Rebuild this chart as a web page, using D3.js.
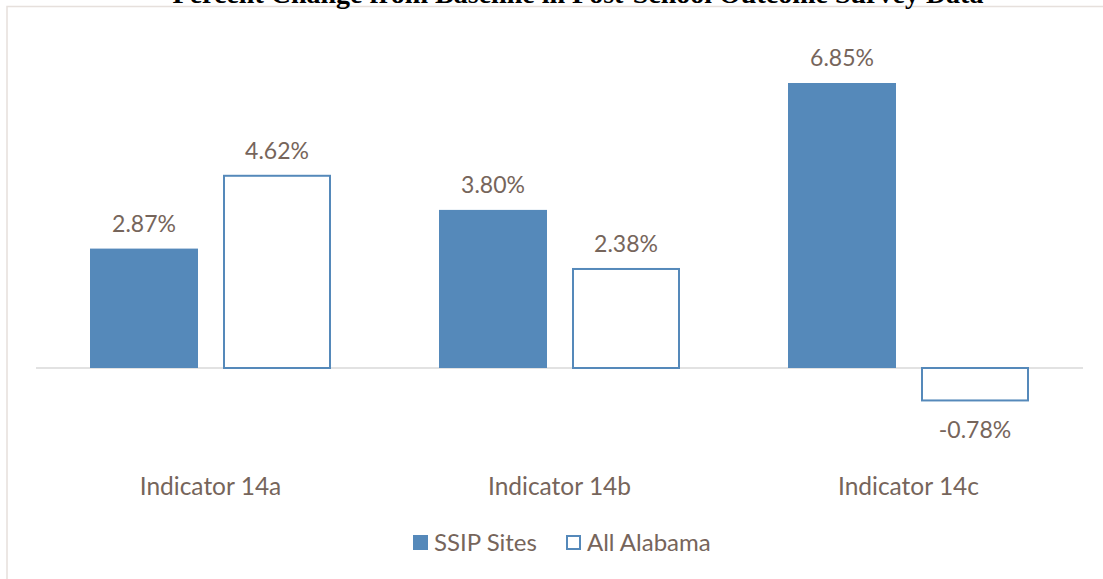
<!DOCTYPE html>
<meta charset="utf-8">
<style>
body { margin: 0; background: #fff; }
text { font-family: Lato, "Open Sans", sans-serif; fill: #76655b; }
.title { font-family: "Liberation Serif", serif; font-weight: bold; fill: #000; }
</style>
<svg width="1103" height="579"></svg>
<script src="https://d3js.org/d3.v7.min.js"></script>
<script>

var categories = ["Indicator 14a", "Indicator 14b", "Indicator 14c"],
    seriesNames = ["SSIP Sites", "All Alabama"],
    ssip = [2.87, 3.80, 6.85],
    allAlabama = [4.62, 2.38, -0.78];

var svg = d3.select("svg"),
    blue = "#5589ba";

// chart frame, mostly off the picture
svg.append("rect")
    .attr("x", 7).attr("y", 6.5)
    .attr("width", 1110).attr("height", 600)
    .attr("fill", "none")
    .attr("stroke", "#e6e0dc")
    .attr("stroke-width", 1.5);

// title, clipped by the top edge as in the source
svg.append("text")
    .attr("class", "title")
    .attr("x", 578).attr("y", 3)
    .attr("text-anchor", "middle")
    .style("font-size", "28px")
    .text("Percent Change from Baseline in Post-School Outcome Survey Data");

var x = d3.scaleBand()
    .domain(categories)
    .range([36, 1083]);

var x1 = d3.scaleBand()
    .domain(seriesNames)
    .range([0, x.bandwidth()])
    .paddingInner(0.188)
    .paddingOuter(0.406);

var y = d3.scaleLinear()
    .domain([0, 6.85])
    .range([368, 83]);

var flat = [];
categories.forEach(function(c, i) {
  flat.push({ cat: c, key: seriesNames[0], v: ssip[i] });
  flat.push({ cat: c, key: seriesNames[1], v: allAlabama[i] });
});

// zero line
svg.append("line")
    .attr("x1", 36).attr("x2", 1083)
    .attr("y1", y(0)).attr("y2", y(0))
    .attr("stroke", "#d9d9d9")
    .attr("stroke-width", 1.5);

svg.selectAll("rect.bar")
  .data(flat)
  .enter().append("rect")
    .attr("class", "bar")
    .attr("x", function(d) { return x(d.cat) + x1(d.key) + (d.key === seriesNames[1] ? 1 : 0); })
    .attr("width", function(d) { return x1.bandwidth() - (d.key === seriesNames[1] ? 2 : 0); })
    .attr("y", function(d) { return y(Math.max(0, d.v)); })
    .attr("height", function(d) { return Math.abs(y(d.v) - y(0)); })
    .attr("fill", function(d) { return d.key === seriesNames[0] ? blue : "#fff"; })
    .attr("stroke", function(d) { return d.key === seriesNames[0] ? "none" : blue; })
    .attr("stroke-width", 2);

svg.selectAll("text.val")
  .data(flat)
  .enter().append("text")
    .attr("class", "val")
    .attr("x", function(d) { return x(d.cat) + x1(d.key) + x1.bandwidth() / 2; })
    .attr("y", function(d) { return d.v >= 0 ? y(d.v) - 17 : y(d.v) + 38; })
    .attr("text-anchor", "middle")
    .style("font-size", "23px")
    .text(function(d) { return d.v.toFixed(2) + "%"; });

svg.selectAll("text.cat")
  .data(categories)
  .enter().append("text")
    .attr("class", "cat")
    .attr("x", function(d) { return x(d) + x.bandwidth() / 2; })
    .attr("y", 495)
    .attr("text-anchor", "middle")
    .style("font-size", "24.5px")
    .text(function(d) { return d; });

// legend
var legend = svg.append("g");
var lx = [413, 566];
seriesNames.forEach(function(s, i) {
  legend.append("rect")
      .attr("x", lx[i] + (i ? 1 : 0)).attr("y", 535 + (i ? 1 : 0))
      .attr("width", i ? 13 : 15).attr("height", i ? 13 : 15)
      .attr("fill", i ? "#fff" : blue)
      .attr("stroke", i ? blue : "none")
      .attr("stroke-width", 2);
  legend.append("text")
      .attr("x", lx[i] + 21).attr("y", 551)
      .style("font-size", "24px")
      .text(s);
});

</script>
